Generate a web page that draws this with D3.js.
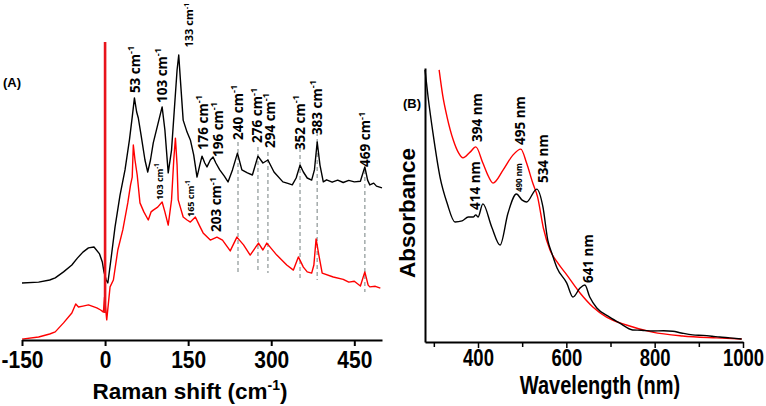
<!DOCTYPE html>
<html>
<head>
<meta charset="utf-8">
<script src="https://cdn.jsdelivr.net/npm/d3@7"></script>
<style>
html,body{margin:0;padding:0;background:#fff;}
svg{display:block;font-family:"Liberation Sans",Arial,sans-serif;}
</style>
</head>
<body>
<svg id="chart" width="766" height="406"></svg>
<script>
// ---------- Panel A: Raman spectra ----------
const ramanBlackX = [-150,-120,-100,-90,-75,-60,-50,-40,-30,-20,-10,-5,-2,2,5,10,18,27,36,44,49,53,57,60,65,72,77,82,87,95,103,108,114,120,125,130,133,136,141,148,154,160,166,171,175,180,184,190,195,200,207,215,222,230,239,247,257,266,276,285,294,305,321,330,338,345,352,358,365,373,378,383,388,394,400,410,420,430,440,450,461,469,474,478,485,490,500];
const ramanBlackY = [19,19.3,20,20.7,22.7,25,27.3,29.3,30.7,31,28.7,26,22.7,20,19,26,37.7,48.3,56.7,66.7,74.3,80.7,76,74,68.3,60,56,60,65.7,71.7,77.7,70,55.7,63.3,76.7,90,95,86.7,73.3,69.3,66.7,61.7,54.3,58.3,61.3,59,57.7,60,61,59,56.7,54.7,52.7,56.7,62.3,56.7,55.7,55,61.3,59,60,56,52.7,52.2,51.7,54,58.3,56,54,53.3,56.7,66,58.3,52.7,53.4,52.6,53.3,52.5,53.2,52.7,52.9,57.7,53.3,51.7,52.3,51.3,50.7];

const ramanRedX = [-150,-120,-100,-90,-75,-60,-53,-48,-40,-30,-15,-8,-3,-1,3,9,15,23,32,41,46,49,51,54,58,63,70,78,83,87,95,103,108,114,120,124,127,130,132,141,148,154,163,170,177,190,202,212,226,238,250,262,277,285,292,310,328,340,349,358,365,373,377,381,386,392,412,430,440,450,461,469,475,478,488,497];
const ramanRedY = [0.3,1,2,2.7,5.7,9,12,11,11.3,11.7,10.7,10,9.3,14.3,6.7,17.7,20,30,36.7,45.7,51.7,54.3,65,60,55,45.7,42.7,40,42.7,43.3,44.3,46,42.7,38.3,46.7,60,67.3,58.3,46.7,41,40,39.3,41,38.3,35.7,33.3,34.3,33.3,29.7,34.3,31.7,28.3,32.3,30,32.3,28.3,25,23.3,27.7,24.3,22.7,22.3,25,33.7,28.3,22.3,21,20.2,19.3,19.6,18,22.7,18.3,17.7,17.9,17.3];

// laser line at 0 cm-1 (intensity range)
const laserLine = {x: 0, from: 9, to: 99.3};

const ramanTicks = [-150, 0, 150, 300, 450];
const ramanTickLabels = ["-150", "0", "150", "300", "450"];

// peak labels (black spectrum): text value, label x (cm-1), label base intensity
const blackPeakNames = ["53","103","133","176","196","240","276","294","352","383","469"];
const blackPeakLabelX = [54,103,152,177,204,240,275,298,352,383,470];
const blackPeakLabelY = [82.3,79,97.5,63.3,61,66.7,65.7,64,63.3,68.3,57.7];

// red spectrum labels
const redPeakNames = ["103","165","203"];
const redPeakLabelX = [99,154,201];
const redPeakLabelY = [46.7,41,36];
const redPeakSmall = [true,true,false];

// dashed guide lines
const guideX = [240,276,294,352,383,469];
const guideTop = [66,64.3,62.7,64,69.3,56.7];
const guideBottom = [22.7,22.3,22.3,20.7,20,16];

// ---------- Panel B: UV-Vis absorbance ----------
const uvBlackX = [280,287,298,314,330,348,364,378,389,395,400,411,431,450,468,487,500,510,533,547,558,567,579,601,615,631,642,653,669,698,721,750,770,795,820,841,860,886,910,930,947,970,997];
const uvBlackY = [99.3,89.4,76.3,60.2,50.7,43.8,44.2,45.6,45.6,46.4,45.6,50.4,42,35.4,47.1,54,51.8,51.1,55.8,49.3,37.2,32.5,27,21.5,16.4,19.7,20.8,16.4,12.4,9.1,6.9,4.4,4.3,4.0,4.1,3.9,3.3,2.6,2.4,2.1,1.8,1.5,1.1];

const uvRedX = [312,320,330,344,356,366,382,395,411,422,434,457,479,497,510,524,535,548,563,579,601,631,660,691,736,795,863,940,997];
const uvRedY = [99.3,90.1,82.1,73.7,69,67.2,69.3,71.2,65.3,61,58,62.8,68.2,70.4,65.3,58,52.9,41.6,33.6,29.2,24.5,17.9,12.8,9.1,6.2,3.6,2.2,1.5,1.1];

const uvTicks = [400, 600, 800, 1000];
const uvMinorTicks = [300, 500, 700, 900];

const uvPeakNames = ["394 nm","495 nm","414 nm","490 nm","534 nm","641 nm"];
const uvPeakLabelX = [398,495,393,493,547,649];
const uvPeakLabelY = [73,71.9,48.2,54.7,58,21.5];
const uvPeakSmall = [false,false,false,true,false,false];

// ---------- drawing ----------
const svg = d3.select("#chart");

// Panel A scales
const xA = d3.scaleLinear().domain([-150, 500]).range([22, 382]);
const yA = d3.scaleLinear().domain([0, 100]).range([340, 40]);

const gA = svg.append("g");

// guide dashed lines
gA.selectAll("line.guide").data(guideX).join("line")
  .attr("class","guide")
  .attr("x1", d => xA(d)).attr("x2", d => xA(d))
  .attr("y1", (d,i) => yA(guideTop[i])).attr("y2", (d,i) => yA(guideBottom[i]))
  .attr("stroke", "#a3abab").attr("stroke-width", 1.5).attr("stroke-dasharray", "4,3");

const lineA = d3.line().x(d => xA(d[0])).y(d => yA(d[1]));

gA.append("path")
  .datum(ramanRedX.map((x,i) => [x, ramanRedY[i]]))
  .attr("d", lineA).attr("fill","none").attr("stroke","#ff0000").attr("stroke-width",1.4).attr("stroke-linejoin","round");

gA.append("path")
  .datum(ramanBlackX.map((x,i) => [x, ramanBlackY[i]]))
  .attr("d", lineA).attr("fill","none").attr("stroke","#000").attr("stroke-width",1.4).attr("stroke-linejoin","round");

gA.append("line")
  .attr("x1", xA(laserLine.x)).attr("x2", xA(laserLine.x))
  .attr("y1", yA(laserLine.from)).attr("y2", yA(laserLine.to))
  .attr("stroke", "#e8141b").attr("stroke-width", 2.6);

// axis A
const axA = gA.append("g").attr("transform", `translate(0,${yA(0)})`)
  .call(d3.axisBottom(xA).tickValues(ramanTicks).tickFormat((d,i) => ramanTickLabels[i]).tickSize(6).tickSizeOuter(0));
axA.select(".domain").attr("stroke","#000").attr("stroke-width",2);
axA.selectAll(".tick line").attr("stroke","#000").attr("stroke-width",2);
axA.selectAll(".tick text")
  .attr("y", 0).attr("dy", 0)
  .attr("transform", "translate(0,28) scale(1,1.1)")
  .attr("fill","#000")
  .style("font-size","21px").style("font-weight","bold").style("font-family","'Liberation Sans',Arial,sans-serif");

// title A
const tA = gA.append("text").attr("x", 190).attr("y", 399).attr("text-anchor","middle")
  .style("font-size","22.5px").style("font-weight","bold");
tA.append("tspan").text("Raman shift (cm");
tA.append("tspan").attr("dy", -9).style("font-size","14px").text("-1");
tA.append("tspan").attr("dy", 9).text(")");

gA.append("text").attr("x", 3).attr("y", 87).style("font-size","13px").style("font-weight","bold").text("(A)");

function rotLabel(g, x, y, num, size, unitSup) {
  const t = g.append("text")
    .attr("transform", `translate(${x},${y}) rotate(-90)`)
    .attr("dy", "0.36em")
    .style("font-size", size + "px").style("font-weight","bold")
    .style("font-family", "'Open Sans','Liberation Sans',sans-serif");
  if (unitSup) {
    t.append("tspan").text(num + " cm");
    t.append("tspan").attr("dy", -size*0.42).style("font-size", (size*0.68) + "px").text("-1");
  } else {
    t.text(num);
  }
  return t;
}

blackPeakNames.forEach((n,i) => rotLabel(gA, xA(blackPeakLabelX[i]), yA(blackPeakLabelY[i]), n, n === "133" ? 11 : 13.5, true));
redPeakNames.forEach((n,i) => rotLabel(gA, xA(redPeakLabelX[i]), yA(redPeakLabelY[i]), n, redPeakSmall[i] ? 9 : 13.5, true));

// Panel B scales
const xB = d3.scaleLinear().domain([280, 1000]).range([425, 743]);
const yB = d3.scaleLinear().domain([0, 100]).range([342, 68]);
const gB = svg.append("g");

const lineB = d3.line().x(d => xB(d[0])).y(d => yB(d[1])).curve(d3.curveMonotoneX);
gB.append("path")
  .datum(uvRedX.map((x,i) => [x, uvRedY[i]]))
  .attr("d", lineB).attr("fill","none").attr("stroke","#ff0000").attr("stroke-width",1.4);
gB.append("path")
  .datum(uvBlackX.map((x,i) => [x, uvBlackY[i]]))
  .attr("d", lineB).attr("fill","none").attr("stroke","#000").attr("stroke-width",1.4);

const axB = gB.append("g").attr("transform", `translate(0,${yB(0)})`)
  .call(d3.axisBottom(xB).tickValues(uvTicks).tickFormat(d3.format("d")).tickSize(6).tickSizeOuter(0));
axB.select(".domain").attr("stroke","#000").attr("stroke-width",2);
axB.selectAll(".tick line").attr("stroke","#000").attr("stroke-width",1.5);
axB.selectAll(".tick text")
  .attr("y", 0).attr("dy", 0)
  .attr("transform", "translate(0,24) scale(1,1.3)")
  .attr("fill","#000")
  .style("font-size","18.5px").style("font-weight","bold").style("font-family","'Liberation Sans',Arial,sans-serif");
const axBm = gB.append("g").attr("transform", `translate(0,${yB(0)})`)
  .call(d3.axisBottom(xB).tickValues(uvMinorTicks).tickSize(5).tickFormat(""));
axBm.select(".domain").remove();
axBm.selectAll(".tick text").remove();
axBm.selectAll(".tick line").attr("stroke","#000").attr("stroke-width",1.5);

const axBy = gB.append("g").attr("transform", `translate(${xB(280)},0)`)
  .call(d3.axisLeft(yB).tickValues([]).tickSizeOuter(0));
axBy.select(".domain").attr("stroke","#000").attr("stroke-width",2);

gB.append("text").attr("x", 600).attr("y", 0).attr("text-anchor","middle")
  .attr("transform","translate(0,394) scale(1,1.25)")
  .style("font-size","20px").style("font-weight","bold").text("Wavelength (nm)");

gB.append("text").attr("transform","translate(415,213) rotate(-90)").attr("text-anchor","middle")
  .style("font-size","22.5px").style("font-weight","bold").text("Absorbance");

gB.append("text").attr("x", 403).attr("y", 108).style("font-size","13px").style("font-weight","bold").text("(B)");

uvPeakNames.forEach((n,i) => rotLabel(gB, xB(uvPeakLabelX[i]), yB(uvPeakLabelY[i]), n, uvPeakSmall[i] ? 8 : 13.5, false));
</script>
</body>
</html>
